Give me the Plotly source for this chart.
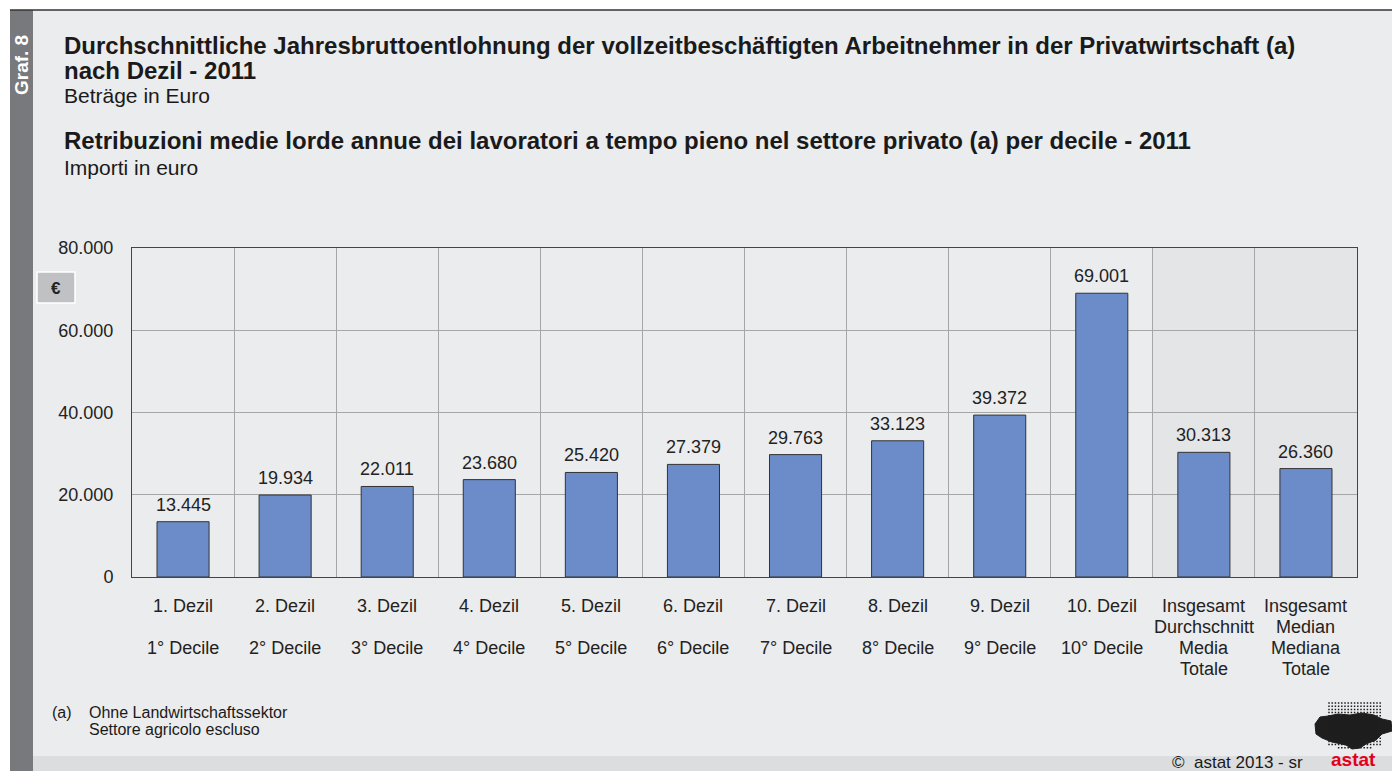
import plotly.graph_objects as go

# data
labels_de = ["1. Dezil", "2. Dezil", "3. Dezil", "4. Dezil", "5. Dezil", "6. Dezil",
             "7. Dezil", "8. Dezil", "9. Dezil", "10. Dezil",
             "Insgesamt<br>Durchschnitt", "Insgesamt<br>Median"]
labels_it = ["1° Decile", "2° Decile", "3° Decile", "4° Decile", "5° Decile", "6° Decile",
             "7° Decile", "8° Decile", "9° Decile", "10° Decile",
             "Media<br>Totale", "Mediana<br>Totale"]
values = [13445, 19934, 22011, 23680, 25420, 27379, 29763, 33123, 39372, 69001, 30313, 26360]
y_ticks = [0, 20000, 40000, 60000, 80000]

categories = [de.replace("<br>", " ") for de in labels_de]

W, H = 1392, 771
L, R, T, B = 132, 1357, 248, 577
FONT = "Liberation Sans, Arial, sans-serif"


def px(x):
    return (x - L) / (R - L)


def py(y):
    return (B - y) / (B - T)


fig = go.Figure(go.Bar(
    x=categories, y=values, width=0.51,
    marker=dict(color="#6b8cc8", line=dict(color="#333333", width=1)),
    hoverinfo="x+y",
))

# value labels
for c, v in zip(categories, values):
    fig.add_annotation(x=c, y=v, text=f"{v:,}".replace(",", "."), showarrow=False,
                       xanchor="center", yanchor="middle", yshift=17,
                       font=dict(size=18, color="#222"))

# category labels, one line at a time (line pitch 21px)
for c, de, it in zip(categories, labels_de, labels_it):
    lines = de.split("<br>") + it.split("<br>")
    if len(lines) == 2:
        lines = [lines[0], "", lines[1]]
    for k, line in enumerate(lines):
        if line:
            fig.add_annotation(x=c, xref="x", yref="paper", y=py(606 + 21 * k), text=line,
                               showarrow=False, xanchor="center", yanchor="middle",
                               font=dict(size=18, color="#222"))

shapes = [
    # page background
    dict(type="rect", xref="paper", yref="paper", x0=px(10), x1=px(W), y0=py(H), y1=py(10),
         fillcolor="#ebeced", line_width=0, layer="below"),
    # bottom band
    dict(type="rect", xref="paper", yref="paper", x0=px(33), x1=px(W), y0=py(H), y1=py(756),
         fillcolor="#dcdddf", line_width=0, layer="below"),
    # left strip
    dict(type="rect", xref="paper", yref="paper", x0=px(10), x1=px(33), y0=py(H), y1=py(10),
         fillcolor="#78797c", line_width=0, layer="below"),
    # top rule
    dict(type="line", xref="paper", yref="paper", x0=px(10), x1=px(W), y0=py(10), y1=py(10),
         line=dict(color="#333", width=1.5), layer="below"),
    # shaded totals
    dict(type="rect", xref="x", yref="y", x0=9.5, x1=11.5, y0=0, y1=80000,
         fillcolor="#e4e5e7", line_width=0, layer="below"),
    # euro box
    dict(type="rect", xref="paper", yref="paper", x0=px(37), x1=px(75), y0=py(303), y1=py(272),
         fillcolor="#c0c1c5", line=dict(color="white", width=1.5), layer="above"),
]

# logo: black silhouette + dot raster
blob = [(1315, 724), (1320, 717), (1328, 716), (1338, 714), (1350, 715), (1362, 713),
        (1374, 715), (1382, 719), (1391, 721), (1392, 731), (1382, 734), (1376, 740),
        (1366, 744), (1360, 748), (1352, 749), (1346, 745), (1332, 742), (1322, 738),
        (1316, 734)]
path = "M " + " L ".join(f"{px(a)},{py(b)}" for a, b in blob) + " Z"
shapes.append(dict(type="path", xref="paper", yref="paper", path=path,
                   fillcolor="#1e1e1e", line=dict(color="#1e1e1e", width=1), layer="above"))
dots = []
for j in range(15):
    yy = 703 + 3.2 * j
    for i in range(17):
        xx = 1329 + 3.2 * i
        if yy > 746 and not (1336 <= xx <= 1372):
            continue
        d = 0.75
        dots.append(f"M {px(xx - d)},{py(yy - d)} L {px(xx + d)},{py(yy - d)} "
                    f"L {px(xx + d)},{py(yy + d)} L {px(xx - d)},{py(yy + d)} Z")
shapes.append(dict(type="path", xref="paper", yref="paper", path=" ".join(dots),
                   fillcolor="#1e1e1e", line_width=0, layer="above"))
fig.update_layout(shapes=shapes)

texts = [
    (62, 45, "<b>Durchschnittliche Jahresbruttoentlohnung der vollzeitbeschäftigten Arbeitnehmer in der Privatwirtschaft (a)</b>", 24),
    (62, 70, "<b>nach Dezil - 2011</b>", 24),
    (62, 96, "Beträge in Euro", 21),
    (62, 141, "<b>Retribuzioni medie lorde annue dei lavoratori a tempo pieno nel settore privato (a) per decile - 2011</b>", 24),
    (62, 167, "Importi in euro", 21),
    (50, 712, "(a)", 16),
    (87, 712, "Ohne Landwirtschaftssektor", 16),
    (87, 729, "Settore agricolo escluso", 16),
    (1170, 762, "©  astat 2013 - sr", 17),
]
for x, y, t, s in texts:
    fig.add_annotation(xref="paper", yref="paper", x=px(x), y=py(y), text=t, showarrow=False,
                       xanchor="left", yanchor="middle", font=dict(size=s, color="#1a1a1a"))

fig.add_annotation(xref="paper", yref="paper", x=px(56), y=py(288), text="<b>€</b>",
                   showarrow=False, xanchor="center", yanchor="middle",
                   font=dict(size=17, color="#222"))
fig.add_annotation(xref="paper", yref="paper", x=px(21), y=py(65), text="<b>Graf. 8</b>",
                   showarrow=False, textangle=-90, xanchor="center", yanchor="middle",
                   font=dict(size=19, color="white"))
fig.add_annotation(xref="paper", yref="paper", x=px(1353), y=py(759), text="<b>astat</b>",
                   showarrow=False, xanchor="center", yanchor="middle",
                   font=dict(size=19, color="#e2001a"))

fig.update_layout(
    width=W, height=H,
    margin=dict(l=L, r=W - R, t=T, b=H - B),
    paper_bgcolor="white", plot_bgcolor="white",
    font=dict(family=FONT, size=18, color="#222"),
    separators=",.",
    showlegend=False,
    xaxis=dict(
        type="category", tickson="boundaries", showgrid=True, gridcolor="#a6a6a6", gridwidth=1,
        showline=True, linecolor="#444", mirror=True, ticks="", showticklabels=False,
        range=[-0.5, 11.5], fixedrange=True,
    ),
    yaxis=dict(
        range=[0, 80000], tickvals=y_ticks, tickformat=",d", showgrid=True,
        gridcolor="#a6a6a6", gridwidth=1, showline=True, linecolor="#444", mirror=True,
        ticks="", ticklabelstandoff=14, zeroline=False,
        tickfont=dict(size=18, color="#222"),
    ),
)

fig.write_html("out.html", config={"displayModeBar": False},
               post_script="document.body.style.margin='0';")
